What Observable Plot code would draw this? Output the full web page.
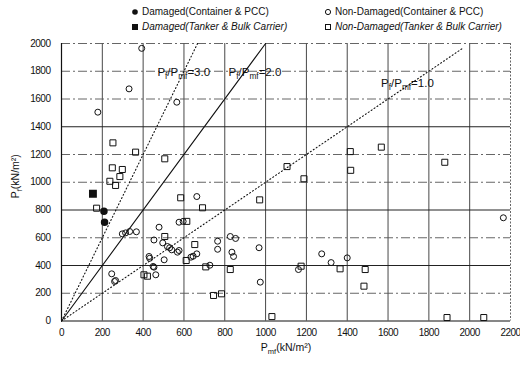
<!DOCTYPE html>
<html>
<head>
<meta charset="utf-8">
<script src="https://cdn.jsdelivr.net/npm/d3@7"></script>
<script src="https://cdn.jsdelivr.net/npm/@observablehq/plot@0.6"></script>
<style>
  html, body { margin: 0; padding: 0; background: #fff; }
  #wrap { position: relative; width: 520px; height: 365px; font-family: "Liberation Sans", Arial, sans-serif; color: #111; }
  #legend { position: relative; width: 520px; height: 36px; font-size: 10px; }
  #legend .item { position: absolute; white-space: nowrap; line-height: 12px; }
  #legend svg { vertical-align: -1px; margin-right: 3px; }
  #legend .it { font-style: italic; }
</style>
</head>
<body>
<div id="wrap">
  <div id="legend"></div>
  <div id="chart"></div>
</div>
<script>
// ---- data ----
const xTicks = [0, 200, 400, 600, 800, 1000, 1200, 1400, 1600, 1800, 2000, 2200];
const yTicks = [0, 200, 400, 600, 800, 1000, 1200, 1400, 1600, 1800, 2000];
const solidYGrid = [400, 800, 1400];
const dashedYGrid = [200, 600, 1000, 1200, 1600, 1800, 2000];

const legendLabels = [
  "Damaged(Container & PCC)",
  "Non-Damaged(Container & PCC)",
  "Damaged(Tanker & Bulk Carrier)",
  "Non-Damaged(Tanker & Bulk Carrier)"
];

const damagedContainer = [[208, 791], [211, 712]];
const damagedTanker = [[154, 917]];
const nonDamagedContainer = [
  [393, 1965], [331, 1673], [178, 1505], [565, 1577],
  [663, 897], [576, 712], [596, 718],
  [478, 676], [298, 628], [314, 635], [334, 645], [367, 643],
  [453, 584], [496, 563], [519, 537], [530, 528], [540, 513], [568, 496], [576, 508],
  [429, 465], [432, 452], [503, 441], [449, 393], [453, 388], [462, 333],
  [246, 340], [265, 292], [260, 285],
  [634, 460], [645, 467], [663, 484], [727, 402],
  [765, 575], [765, 517], [827, 609], [853, 595], [835, 496], [843, 465], [968, 528], [974, 280],
  [1161, 371], [1275, 484], [1321, 421], [1400, 455], [2165, 744]
];
const nonDamagedTanker = [
  [252, 1284], [363, 1217], [506, 1169], [249, 1104], [298, 1092], [286, 1041], [237, 1007], [265, 977], [172, 813],
  [584, 888], [691, 816], [971, 873], [506, 609], [653, 551], [614, 718], [611, 436], [707, 390], [827, 371],
  [745, 184], [784, 196], [1031, 32], [404, 333], [421, 323],
  [1105, 1113], [1188, 1025], [1415, 1221], [1417, 1086], [1567, 1253], [1878, 1144],
  [1174, 395], [1365, 376], [1488, 371], [1482, 251], [1889, 25], [2069, 25]
];

const ratioLines = [
  {ratio: 3.0, xEnd: 667, dash: "1,2.5", width: 1.1},
  {ratio: 2.0, xEnd: 1000, dash: null, width: 1.1},
  {ratio: 1.0, xEnd: 1970, dash: "1,2.5", width: 1.1}
];
const ratioLabels = [
  {x: 599, y: 1791, text: "P_{f}/P_{mf}=3.0"},
  {x: 948, y: 1791, text: "P_{f}/P_{mf}=2.0"},
  {x: 1695, y: 1712, text: "P_{f}/P_{mf}=1.0"}
];

// ---- legend ----
const legendPos = [
  {left: 131, top: 6, sym: "fc", italic: false},
  {left: 324, top: 6, sym: "oc", italic: false},
  {left: 131, top: 21, sym: "fs", italic: true},
  {left: 324, top: 21, sym: "os", italic: true}
];
const symSvg = {
  fc: '<svg width="8" height="8"><circle cx="4" cy="4" r="2.8" fill="#111"/></svg>',
  oc: '<svg width="8" height="8"><circle cx="4" cy="4" r="2.6" fill="none" stroke="#111" stroke-width="1"/></svg>',
  fs: '<svg width="8" height="8"><rect x="1" y="1" width="6" height="6" fill="#111"/></svg>',
  os: '<svg width="8" height="8"><rect x="1.5" y="1.5" width="5" height="5" fill="none" stroke="#111" stroke-width="1"/></svg>'
};
const legend = document.getElementById("legend");
legendLabels.forEach((lab, i) => {
  const p = legendPos[i];
  const el = document.createElement("div");
  el.className = "item" + (p.italic ? " it" : "");
  el.style.left = p.left + "px";
  el.style.top = p.top + "px";
  el.innerHTML = symSvg[p.sym];
  el.appendChild(document.createTextNode(lab));
  legend.appendChild(el);
});

// ---- chart ----
const lineData = ratioLines.flatMap((r, i) => [
  {id: i, x: 0, y: 0},
  {id: i, x: r.xEnd, y: r.xEnd * r.ratio}
]);

const marks = [
  Plot.ruleX(xTicks.filter(d => d > 0 && d < 2200), {stroke: "#333", strokeWidth: 0.9}),
  Plot.ruleX([2200], {stroke: "#555", strokeWidth: 0.9, strokeDasharray: "2,1.5"}),
  Plot.ruleY(dashedYGrid, {stroke: "#555", strokeWidth: 0.9, strokeDasharray: "9,3,2,3"}),
  Plot.ruleY(solidYGrid, {stroke: "#222", strokeWidth: 1}),
  Plot.ruleY([0], {stroke: "#111", strokeWidth: 1.2}),
  Plot.ruleX([0], {stroke: "#111", strokeWidth: 1.2})
];
ratioLines.forEach((r, i) => {
  marks.push(Plot.line(lineData.filter(d => d.id === i), {
    x: "x", y: "y", stroke: "#111", strokeWidth: r.width,
    strokeDasharray: r.dash ?? undefined
  }));
});
marks.push(
  Plot.text(ratioLabels, {x: "x", y: "y", text: "text", fontSize: 11.5, fill: "#111"}),
  Plot.dot(nonDamagedContainer, {x: d => d[0], y: d => d[1], symbol: "circle", r: 3, stroke: "#111", strokeWidth: 1, fill: "none"}),
  Plot.dot(nonDamagedTanker, {x: d => d[0], y: d => d[1], symbol: "square", r: 3.4, stroke: "#111", strokeWidth: 1, fill: "none"}),
  Plot.dot(damagedContainer, {x: d => d[0], y: d => d[1], symbol: "circle", r: 3, fill: "#111", stroke: "#111"}),
  Plot.dot(damagedTanker, {x: d => d[0], y: d => d[1], symbol: "square", r: 3.6, fill: "#111", stroke: "#111"}),
  Plot.axisX({ticks: xTicks, tickSize: 0, tickPadding: 8, label: null, fontSize: 10, tickFormat: d => String(d)}),
  Plot.axisY({ticks: yTicks, tickSize: 0, tickPadding: 11, label: null, fontSize: 10, tickFormat: d => String(d)}),
  Plot.text(["P_{mf}(kN/m²)"], {frameAnchor: "bottom", text: d => d, dy: 30, fontSize: 10.5, fill: "#111"}),
  Plot.text(["P_{f}(kN/m²)"], {frameAnchor: "left", text: d => d, dx: -46, dy: -6, rotate: -90, textAnchor: "middle", fontSize: 10.5, fill: "#111"})
);

const chart = Plot.plot({
  width: 520,
  height: 329,
  marginLeft: 61,
  marginRight: 10,
  marginTop: 7,
  marginBottom: 44.5,
  style: {fontFamily: "'Liberation Sans', Arial, sans-serif", fontSize: "10px", color: "#111", background: "#fff"},
  x: {domain: [0, 2200]},
  y: {domain: [0, 2000]},
  marks
});
document.getElementById("chart").appendChild(chart);

// condensed tick digits like the reference
d3.select(chart).selectAll("g[aria-label='x-axis tick label'] text, g[aria-label='y-axis tick label'] text")
  .attr("letter-spacing", "-0.5");

// subscript formatting for texts written as P_{f}
d3.select(chart).selectAll("text").each(function() {
  const t = this.textContent;
  if (!t.includes("_{")) return;
  const fs = parseFloat(getComputedStyle(this).fontSize) || 11;
  const shift = (0.28 * fs).toFixed(2);
  const sel = d3.select(this);
  sel.selectAll("*").remove();
  this.textContent = "";
  const re = /_\{([^}]*)\}/g;
  let last = 0, m, down = false;
  while ((m = re.exec(t)) !== null) {
    if (m.index > last) {
      const ts = sel.append("tspan").text(t.slice(last, m.index));
      if (down) { ts.attr("dy", -shift); down = false; }
    }
    sel.append("tspan").attr("dy", shift).attr("font-size", (0.72 * fs).toFixed(2) + "px").text(m[1]);
    down = true;
    last = m.index + m[0].length;
  }
  if (last < t.length) {
    const ts = sel.append("tspan").text(t.slice(last));
    if (down) ts.attr("dy", -shift);
  }
});
</script>
</body>
</html>
